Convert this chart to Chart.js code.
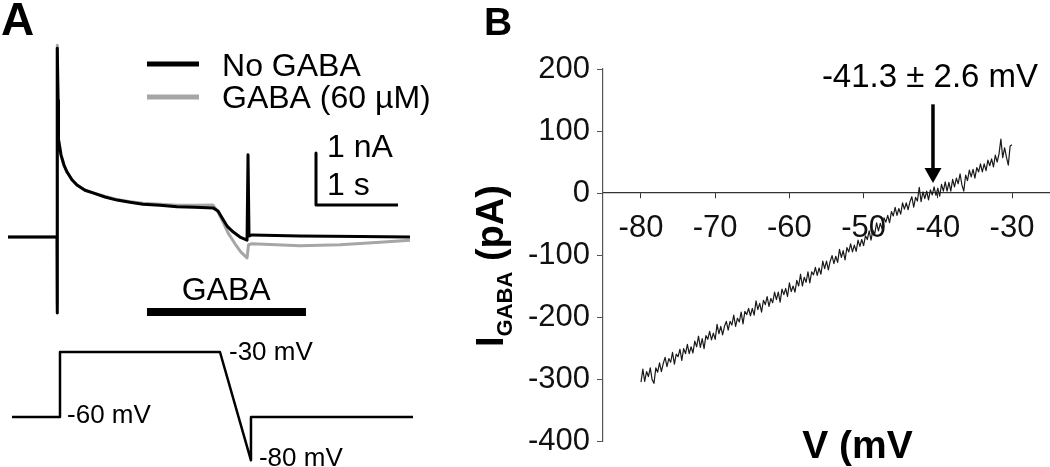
<!DOCTYPE html>
<html>
<head>
<meta charset="utf-8">
<script src="https://cdn.jsdelivr.net/npm/chart.js@4.4.1/dist/chart.umd.min.js"></script>
<style>
  html, body { margin: 0; padding: 0; background: #fff; }
  body { width: 1050px; height: 467px; position: relative; overflow: hidden; }
  canvas { position: absolute; top: 0; }
  #panelA { left: 0; }
  #panelB { left: 470px; }
</style>
</head>
<body>
<canvas id="panelA" width="470" height="467"></canvas>
<canvas id="panelB" width="580" height="467"></canvas>
<script>
// ---- panel A : current traces (time in s, current in nA) ----
const tNoGaba = [0, 0.598, 0.598, 0.604, 0.610, 0.616, 0.646, 0.683, 0.720, 0.780, 0.841, 0.939, 1.037, 1.183, 1.329, 1.488, 1.646, 1.854, 2.061, 2.280, 2.500, 2.561, 2.610, 2.671, 2.744, 2.829, 2.915, 2.927, 2.939, 2.976, 3.561, 4.293, 4.902]
const iNoGaba = [0, 0, -1.46, 3.63, 2.63, 1.87, 1.58, 1.38, 1.25, 1.10, 1.00, 0.90, 0.85, 0.77, 0.71, 0.67, 0.63, 0.61, 0.58, 0.57, 0.56, 0.50, 0.37, 0.21, 0.10, 0.00, -0.06, 1.58, 0.02, 0.04, 0.02, 0.01, 0.00]

const tGaba = [0, 0.598, 0.598, 0.603, 0.610, 0.616, 0.646, 0.683, 0.720, 0.780, 0.841, 0.939, 1.037, 1.183, 1.329, 1.488, 1.646, 1.854, 2.061, 2.280, 2.500, 2.561, 2.622, 2.683, 2.768, 2.841, 2.915, 2.933, 2.976, 3.561, 4.049, 4.537, 4.902]
const iGaba = [0, 0, -1.30, 3.69, 2.63, 1.87, 1.58, 1.38, 1.25, 1.10, 1.00, 0.90, 0.85, 0.78, 0.72, 0.68, 0.65, 0.63, 0.61, 0.61, 0.615, 0.48, 0.29, 0.08, -0.13, -0.29, -0.40, -0.15, -0.13, -0.17, -0.15, -0.10, -0.06]

// voltage command (mV)
const tCmd = [0.049, 0.634, 0.634, 2.585, 2.963, 2.963, 4.939]
const vCmd = [-60, -60, -30, -30, -80, -60, -60]

// legend swatches, scale bar, GABA application bar
const legendT = [1.695, 2.329]
const legendNoI = [3.327, 3.327]
const legendGabaI = [2.692, 2.692]
const scaleBarT = [3.756, 3.756, 4.756]
const scaleBarI = [1.615, 0.615, 0.615]
const gabaBarT = [1.695, 3.634]
const gabaBarI = [-1.44, -1.44]

// ---- panel B : I-V of the GABA current (ramp -80 -> -30 mV) ----
const vSweep = [
    -80, -79.75, -79.5, -79.25, -79, -78.75, -78.5, -78.25, -78, -77.75,
    -77.5, -77.25, -77, -76.75, -76.5, -76.25, -76, -75.75, -75.5, -75.25,
    -75, -74.75, -74.5, -74.25, -74, -73.75, -73.5, -73.25, -73, -72.75,
    -72.5, -72.25, -72, -71.75, -71.5, -71.25, -71, -70.75, -70.5, -70.25,
    -70, -69.75, -69.5, -69.25, -69, -68.75, -68.5, -68.25, -68, -67.75,
    -67.5, -67.25, -67, -66.75, -66.5, -66.25, -66, -65.75, -65.5, -65.25,
    -65, -64.75, -64.5, -64.25, -64, -63.75, -63.5, -63.25, -63, -62.75,
    -62.5, -62.25, -62, -61.75, -61.5, -61.25, -61, -60.75, -60.5, -60.25,
    -60, -59.75, -59.5, -59.25, -59, -58.75, -58.5, -58.25, -58, -57.75,
    -57.5, -57.25, -57, -56.75, -56.5, -56.25, -56, -55.75, -55.5, -55.25,
    -55, -54.75, -54.5, -54.25, -54, -53.75, -53.5, -53.25, -53, -52.75,
    -52.5, -52.25, -52, -51.75, -51.5, -51.25, -51, -50.75, -50.5, -50.25,
    -50, -49.75, -49.5, -49.25, -49, -48.75, -48.5, -48.25, -48, -47.75,
    -47.5, -47.25, -47, -46.75, -46.5, -46.25, -46, -45.75, -45.5, -45.25,
    -45, -44.75, -44.5, -44.25, -44, -43.75, -43.5, -43.25, -43, -42.75,
    -42.5, -42.25, -42, -41.75, -41.5, -41.25, -41, -40.75, -40.5, -40.25,
    -40, -39.75, -39.5, -39.25, -39, -38.75, -38.5, -38.25, -38, -37.75,
    -37.5, -37.25, -37, -36.75, -36.5, -36.25, -36, -35.75, -35.5, -35.25,
    -35, -34.75, -34.5, -34.25, -34, -33.75, -33.5, -33.25, -33, -32.75,
    -32.5, -32.25, -32, -31.75, -31.5, -31.25, -31, -30.75, -30.5, -30.25,
    -30]
const iSweep = [
    -305, -284, -304, -288, -296, -282, -301, -307, -282, -289,
    -274, -288, -275, -265, -280, -267, -273, -257, -276, -260,
    -264, -252, -270, -251, -259, -244, -259, -248, -258, -239,
    -248, -231, -249, -235, -251, -230, -236, -223, -237, -226,
    -236, -212, -227, -215, -229, -215, -207, -221, -207, -213,
    -197, -215, -202, -208, -192, -211, -191, -196, -186, -198,
    -186, -197, -174, -188, -178, -192, -173, -180, -167, -183,
    -170, -177, -160, -172, -160, -176, -155, -164, -154, -167,
    -145, -159, -150, -160, -141, -150, -131, -150, -136, -144,
    -127, -145, -127, -132, -120, -133, -121, -131, -110, -122,
    -110, -124, -110, -101, -114, -102, -112, -91, -104, -93,
    -108, -88, -95, -82, -95, -84, -94, -76, -86, -75,
    -85, -69, -75, -61, -76, -60, -66, -48, -61, -49,
    -58, -40, -47, -36, -48, -30, -37, -23, -36, -25,
    -34, -16, -26, -16, -27, -14, -6, -23, -7, -13,
    9, -14, 2, -9, 3, -11, 5, -3, 10, -4,
    8, -5, 14, 3, 18, 3, 17, 3, 22, 10,
    24, 15, 31, 13, 3, 29, 20, 37, 26, 38,
    24, 41, 34, 47, 34, 47, 36, 53, 44, 55,
    42, 61, 50, 63, 87, 57, 73, 58, 45, 76,
    78]
const vTicks = [-80, -70, -60, -50, -40, -30]
const iTicks = [200, 100, 0, -100, -200, -300, -400]
const reversal = '-41.3 ± 2.6 mV'
const arrowV = -40.65

Chart.defaults.font.family = "'Liberation Sans', Arial, sans-serif"
Chart.defaults.color = '#111'

const pts = (xs, ys) => xs.map((x, i) => ({x: x, y: ys[i]}))

const trace = (xs, ys, color, width, axis, order) => ({
    data: pts(xs, ys),
    showLine: true,
    borderColor: color,
    borderWidth: width,
    pointRadius: 0,
    yAxisID: axis,
    order: order
})

const textA = [
    {text: 'No GABA', t: 2.61, v: 3.096, axis: 'y', size: 32},
    {text: 'GABA (60 µM)', t: 2.61, v: 2.481, axis: 'y', size: 32},
    {text: '1 nA', t: 3.89, v: 1.538, axis: 'y', size: 32},
    {text: '1 s', t: 3.89, v: 0.808, axis: 'y', size: 32},
    {text: 'GABA', t: 2.66, v: -1.212, axis: 'y', size: 32, align: 'center'},
    {text: '-60 mV', t: 0.72, v: -62.77, axis: 'yV', size: 26},
    {text: '-30 mV', t: 2.695, v: -33.69, axis: 'yV', size: 26},
    {text: '-80 mV', t: 3.06, v: -82.6, axis: 'yV', size: 26}
]

const panelALabels = {
    id: 'panelALabels',
    afterDraw(chart) {
        const ctx = chart.ctx
        ctx.save()
        ctx.fillStyle = '#000'
        ctx.textBaseline = 'alphabetic'
        for (let lab of textA) {
            ctx.font = `${lab.size}px 'Liberation Sans', Arial, sans-serif`
            ctx.textAlign = lab.align || 'left'
            ctx.fillText(lab.text, chart.scales.x.getPixelForValue(lab.t), chart.scales[lab.axis].getPixelForValue(lab.v))
        }
        ctx.font = "bold 46px 'Liberation Sans', Arial, sans-serif"
        ctx.textAlign = 'left'
        ctx.fillText('A', 1, 35)
        ctx.restore()
    }
}

new Chart(document.getElementById('panelA'), {
    type: 'scatter',
    data: {
        datasets: [
            trace(tNoGaba, iNoGaba, '#000', 3, 'y', 1),
            trace(tGaba, iGaba, '#a6a6a6', 3, 'y', 2),
            trace(tCmd, vCmd, '#000', 2.5, 'yV', 1),
            trace(legendT, legendNoI, '#000', 5, 'y', 1),
            trace(legendT, legendGabaI, '#a6a6a6', 5, 'y', 1),
            trace(scaleBarT, scaleBarI, '#000', 3, 'y', 1),
            trace(gabaBarT, gabaBarI, '#000', 8, 'y', 1)
        ]
    },
    options: {
        responsive: false,
        animation: false,
        devicePixelRatio: 1,
        layout: {padding: 0},
        plugins: {legend: {display: false}, tooltip: {enabled: false}},
        elements: {line: {tension: 0, borderJoinStyle: 'round', borderCapStyle: 'butt'}},
        scales: {
            x: {type: 'linear', display: false, min: -0.0976, max: 5.634},
            y: {type: 'linear', display: false, min: -4.423, max: 4.558},
            yV: {type: 'linear', axis: 'y', display: false, min: -83.08, max: 132.46}
        }
    },
    plugins: [panelALabels]
})

const panelBLabels = {
    id: 'panelBLabels',
    afterDraw(chart) {
        const ctx = chart.ctx
        const x = chart.scales.x, y = chart.scales.y
        ctx.save()
        ctx.fillStyle = '#000'
        ctx.strokeStyle = '#000'

        // y title, rotated, with subscript
        ctx.translate(33, 347)
        ctx.rotate(-Math.PI / 2)
        ctx.textAlign = 'left'
        ctx.textBaseline = 'alphabetic'
        ctx.font = "bold 38px 'Liberation Sans', Arial, sans-serif"
        ctx.fillText('I', 0, 0)
        let w = ctx.measureText('I').width
        ctx.font = "bold 22px 'Liberation Sans', Arial, sans-serif"
        ctx.fillText('GABA', w, 9)
        w += ctx.measureText('GABA').width
        ctx.font = "bold 38px 'Liberation Sans', Arial, sans-serif"
        ctx.fillText(' (pA)', w, 0)
        ctx.setTransform(1, 0, 0, 1, 0, 0)

        // x title
        ctx.textAlign = 'center'
        ctx.font = "bold 39px 'Liberation Sans', Arial, sans-serif"
        ctx.fillText('V (mV', (x.left + x.right) / 2 + 31, 458)

        // reversal annotation and arrow
        const ax = x.getPixelForValue(arrowV)
        ctx.font = "33px 'Liberation Sans', Arial, sans-serif"
        ctx.fillText(reversal, ax - 3, 87)
        const top = y.getPixelForValue(143), tip = y.getPixelForValue(16)
        ctx.lineWidth = 3.5
        ctx.beginPath()
        ctx.moveTo(ax, top)
        ctx.lineTo(ax, tip - 12)
        ctx.stroke()
        ctx.beginPath()
        ctx.moveTo(ax - 8.5, tip - 15)
        ctx.lineTo(ax + 8.5, tip - 15)
        ctx.lineTo(ax, tip)
        ctx.closePath()
        ctx.fill()

        ctx.textAlign = 'left'
        ctx.font = "bold 39px 'Liberation Sans', Arial, sans-serif"
        ctx.fillText('B', 14, 35)
        ctx.restore()
    }
}

new Chart(document.getElementById('panelB'), {
    type: 'scatter',
    data: {
        datasets: [{
            data: pts(vSweep, iSweep),
            showLine: true,
            borderColor: '#1a1a1a',
            borderWidth: 1.2,
            pointRadius: 0
        }]
    },
    options: {
        responsive: false,
        animation: false,
        devicePixelRatio: 1,
        layout: {padding: {top: 69, bottom: 26, left: 0, right: 0}},
        plugins: {legend: {display: false}, tooltip: {enabled: false}},
        elements: {line: {tension: 0, borderJoinStyle: 'round'}},
        scales: {
            x: {
                type: 'linear', min: -85.12, max: -24.88, position: {y: 0},
                afterBuildTicks: s => { s.ticks = vTicks.map(v => ({value: v})) },
                afterFit: s => { s.height = 0 },
                grid: {drawOnChartArea: false, drawTicks: true, tickLength: 5, color: '#333'},
                border: {display: true, color: '#333', width: 1.2},
                ticks: {font: {size: 31}, color: '#111', padding: 12, maxRotation: 0, autoSkip: false}
            },
            y: {
                type: 'linear', min: -400, max: 200, position: 'left',
                afterBuildTicks: s => { s.ticks = iTicks.map(v => ({value: v})) },
                afterFit: s => { s.width = 133 },
                grid: {drawOnChartArea: false, drawTicks: true, tickLength: 6, color: '#555'},
                border: {display: true, color: '#555', width: 1.2},
                ticks: {font: {size: 31}, color: '#111', padding: 7}
            }
        }
    },
    plugins: [panelBLabels]
})
</script>
</body>
</html>
